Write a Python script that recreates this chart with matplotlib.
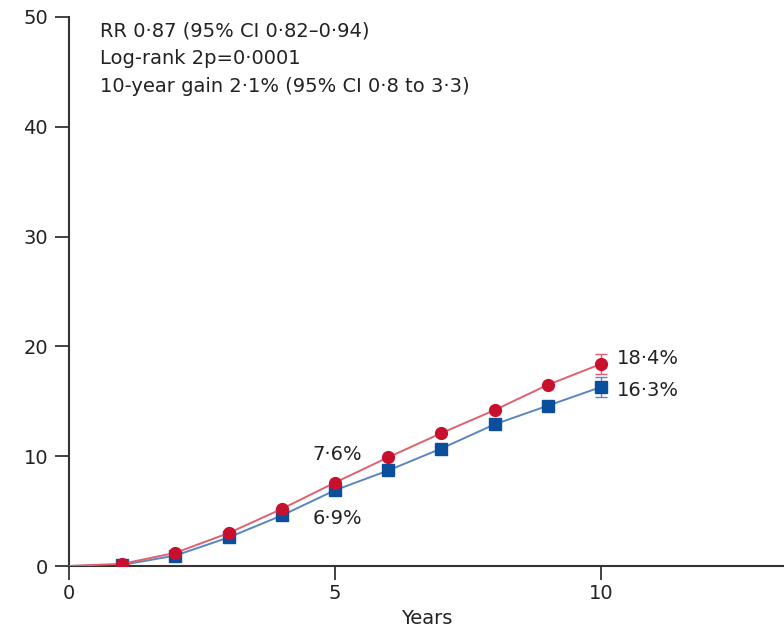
import matplotlib
matplotlib.use("Agg")
import matplotlib.pyplot as plt
from matplotlib import font_manager

years = [0, 1, 2, 3, 4, 5, 6, 7, 8, 9, 10]
control = [0, 0.2, 1.2, 3.0, 5.2, 7.6, 9.9, 12.1, 14.2, 16.5, 18.4]
treated = [0, 0.1, 0.95, 2.6, 4.6, 6.9, 8.7, 10.7, 12.9, 14.6, 16.3]
control_err10 = 0.9
treated_err10 = 0.9
stats_lines = [
    "RR 0·87 (95% CI 0·82–0·94)",
    "Log-rank 2p=0·0001",
    "10-year gain 2·1% (95% CI 0·8 to 3·3)",
]
x_ticks = [0, 5, 10]
y_ticks = [0, 10, 20, 30, 40, 50]

names = {f.name for f in font_manager.fontManager.ttflist}
family = "Liberation Sans Narrow" if "Liberation Sans Narrow" in names else "DejaVu Sans"
plt.rcParams["font.family"] = [family, "DejaVu Sans"]

red = "#c8102e"
red_line = "#e06070"
blue = "#0b4f9c"
blue_line = "#5a86c0"
axis_col = "#333333"

fig = plt.figure(figsize=(7.84, 6.33), dpi=100)
ax = fig.add_axes([69 / 784, 67 / 633, 1 - 69 / 784, (616 - 67) / 633])
ax.set_xlim(0, 13.44)
ax.set_ylim(0, 50)

ax.plot(years, treated, color=blue_line, lw=1.4, zorder=2)
ax.plot(years[1:], treated[1:], "s", color=blue, ms=8, zorder=3)
ax.plot(years, control, color=red_line, lw=1.4, zorder=4)
ax.plot(years[1:], control[1:], "o", color=red, ms=8.5, zorder=5)

ax.errorbar([10], [treated[-1]], yerr=treated_err10, color=blue_line,
            capsize=4, lw=1, zorder=2)
ax.errorbar([10], [control[-1]], yerr=control_err10, color=red_line,
            capsize=4, lw=1, zorder=4)

for s in ["top", "right"]:
    ax.spines[s].set_visible(False)
for s in ["left", "bottom"]:
    ax.spines[s].set_color(axis_col)
    ax.spines[s].set_linewidth(1.5)

ax.set_xticks(x_ticks)
ax.set_yticks(y_ticks)
ax.tick_params(axis="both", colors=axis_col, labelcolor="#222222",
               labelsize=14, length=10, width=1.3, direction="out")
ax.tick_params(axis="x", pad=3)
ax.tick_params(axis="y", pad=5)
ax.set_xlabel("Years", fontsize=14, color="#222222", labelpad=4)

for i, line in enumerate(stats_lines):
    ax.text(0.58, 48.7 - i * 2.5, line, fontsize=14, color="#222222",
            va="center", ha="left")

ax.text(10.3, control[-1] + 0.5, f"{control[-1]:.1f}%".replace(".", "·"),
        fontsize=14, va="center", ha="left", color="#222222")
ax.text(10.3, treated[-1] - 0.3, f"{treated[-1]:.1f}%".replace(".", "·"),
        fontsize=14, va="center", ha="left", color="#222222")
ax.text(5.05, control[5] + 2.6, f"{control[5]:.1f}%".replace(".", "·"),
        fontsize=14, va="center", ha="center", color="#222222")
ax.text(5.05, treated[5] - 2.6, f"{treated[5]:.1f}%".replace(".", "·"),
        fontsize=14, va="center", ha="center", color="#222222")

fig.savefig("out.png", dpi=100)
